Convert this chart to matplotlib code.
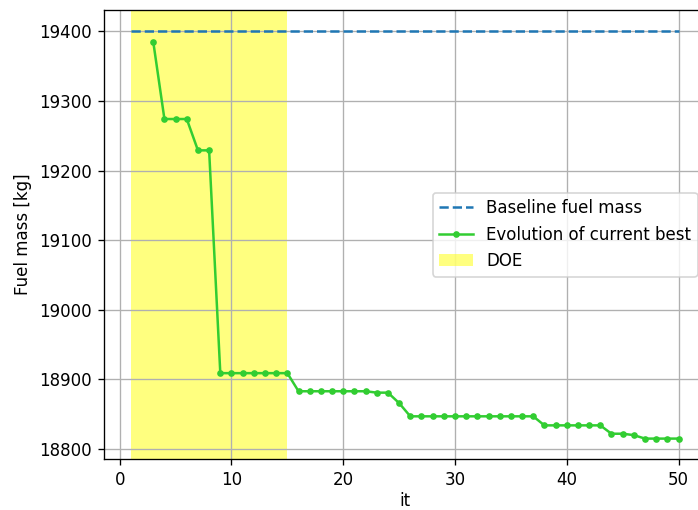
import numpy as np
import matplotlib.pyplot as plt

# iterations and best fuel mass so far
it = np.arange(3, 51)
best = [19385, 19274, 19274, 19274, 19229, 19229,
        18909, 18909, 18909, 18909, 18909, 18909, 18909,
        18883, 18883, 18883, 18883, 18883, 18883, 18883,
        18881, 18881, 18866,
        18847, 18847, 18847, 18847, 18847, 18847, 18847, 18847, 18847, 18847, 18847, 18847,
        18834, 18834, 18834, 18834, 18834, 18834,
        18822, 18822, 18820,
        18815, 18815, 18815, 18815]
baseline = 19401
baseline_it = [1, 50]
doe_range = (1, 15)

fig = plt.figure(figsize=(698 / 120, 510 / 120), dpi=120)
# the original was cropped, so the right spine sits just outside the picture
ax = fig.add_axes([0.1483, 0.1, 0.863, 0.880])

ax.plot(baseline_it, [baseline, baseline], '--', color='C0', label='Baseline fuel mass')
ax.plot(it, best, '.-', color='limegreen', label='Evolution of current best')
ax.axvspan(doe_range[0], doe_range[1], color='yellow', alpha=0.5, lw=0, label='DOE')

ax.set_xlabel('it', labelpad=2)
ax.set_ylabel('Fuel mass [kg]')
ax.grid(True)
ax.legend(loc='center right')

fig.savefig('out.png', dpi=120)
